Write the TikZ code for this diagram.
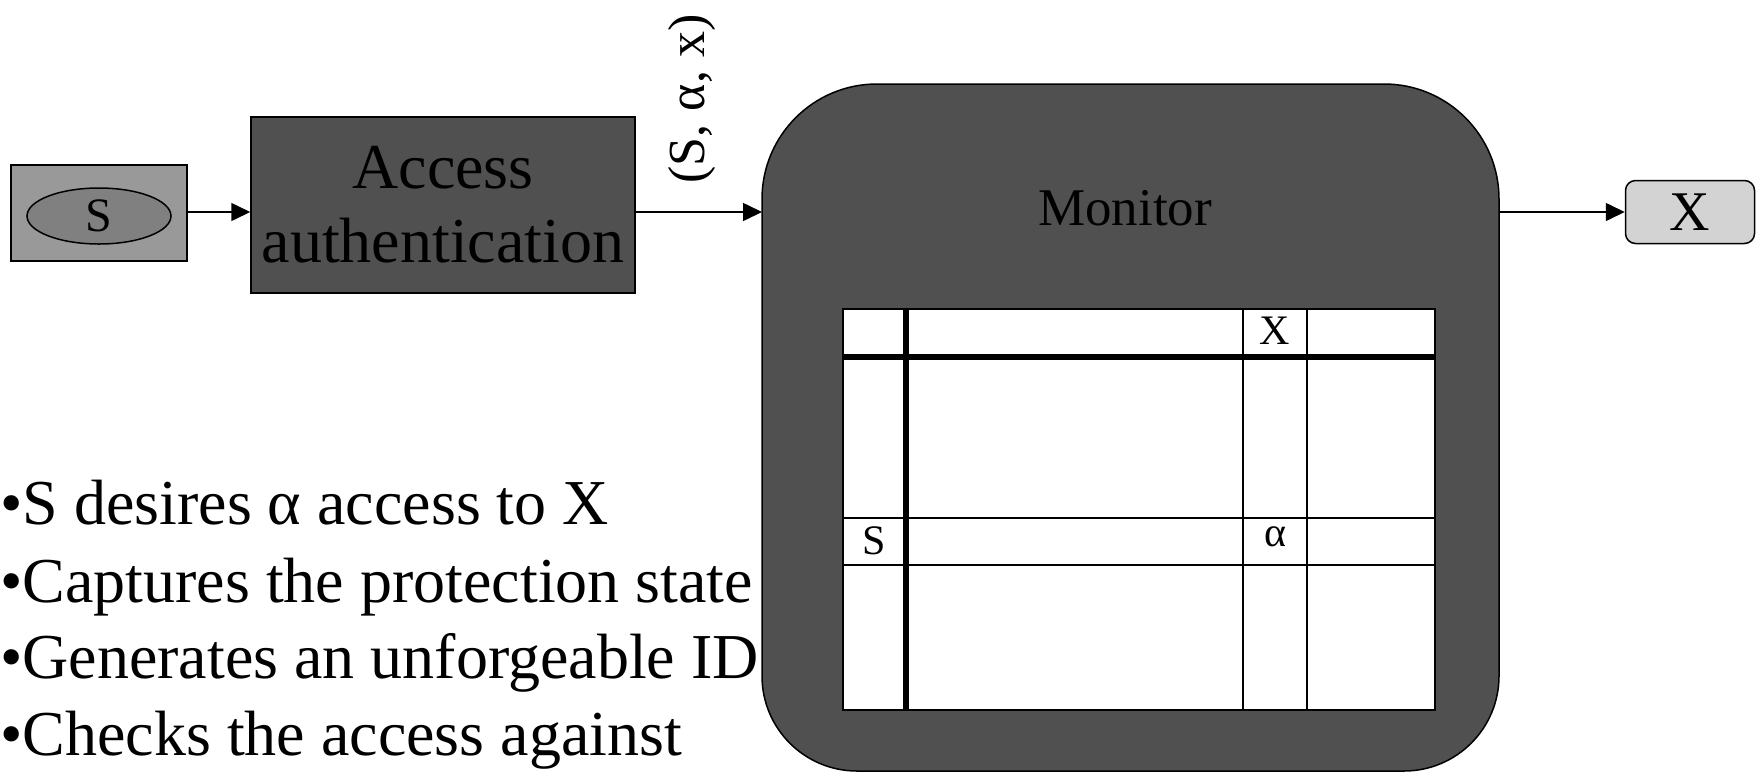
\documentclass[tikz,border=0pt]{standalone}
\usepackage{fontspec}
\setmainfont{Liberation Serif}
\usetikzlibrary{arrows.meta,shapes.geometric}
\definecolor{sgray}{HTML}{999999}
\definecolor{egray}{HTML}{808080}
\definecolor{dgray}{HTML}{505050}
\definecolor{lgray}{HTML}{D3D3D3}
\tikzset{
  box/.style={draw=black,line width=1.5pt,inner sep=0pt},
  arr/.style={line width=1.6pt,-{Triangle[length=19pt,width=18pt]}},
  thinln/.style={line width=1.6pt},
  thickln/.style={line width=6pt},
  bullet/.style={anchor=base west,inner sep=0pt,font=\fontsize{64}{74}\selectfont},
  cell/.style={inner sep=0pt,font=\fontsize{42}{46}\selectfont}
}
\begin{document}
\begin{tikzpicture}[x=1pt,y=-1pt]
\useasboundingbox (0,0) rectangle (1758,772);
\clip (0,0) rectangle (1758,772);
% subject box
\node[box,fill=sgray,minimum width=176pt,minimum height=96pt] (sbox) at (99,213) {};
\node[draw=black,line width=1.5pt,fill=egray,ellipse,minimum width=144pt,minimum height=56pt,inner sep=0pt,font=\fontsize{48}{52}\selectfont] (s) at (99,216) {S};
% access authentication
\node[box,fill=dgray,minimum width=384pt,minimum height=176pt,align=center,font=\fontsize{64}{74}\selectfont] (auth) at (443,205) {Access\\authentication};
% monitor
\draw[line width=1.5pt,fill=dgray] (762,400)
  {[rounded corners=115pt] -- (762,84) -- (1499,84) -- (1499,400)}
  {[rounded corners=95pt] -- (1499,771) -- (762,771) -- (762,400)} -- cycle;
\coordinate (monw) at (762,212);
\coordinate (mone) at (1499,212);
\node[font=\fontsize{53}{58}\selectfont] (mon) at (1125,208) {Monitor};
% object box
\node[box,fill=lgray,rounded corners=10pt,minimum width=129pt,minimum height=63pt,font=\fontsize{56}{60}\selectfont] (xbox) at (1690,212) {X};
% arrows
\draw[arr] (sbox.east |- 0,212) -- (auth.west |- 0,212);
\draw[arr] (auth.east |- 0,212) -- (monw);
\draw[arr] (mone) -- (xbox.west |- 0,212);
\node[rotate=90,font=\fontsize{52}{56}\selectfont] (lab) at (692,99) {(S, α, x)};
% matrix
\draw[thinln,fill=white] (843,309) rectangle (1435,710);
\draw[thinln] (1243,309) -- (1243,710);
\draw[thinln] (1307,309) -- (1307,710);
\draw[thinln] (843,518) -- (1435,518);
\draw[thinln] (843,565) -- (1435,565);
\draw[thickln] (906,309) -- (906,710);
\draw[thickln] (843,357) -- (1435,357);
\node[cell] (cx) at (1275,331) {X};
\node[cell] (cs) at (874,541) {S};
\node[cell] (ca) at (1275,537) {α};
% bullets
\node[bullet] (b1) at (0,524) {•S desires α access to X};
\node[bullet] (b2) at (0,602) {•Captures the protection state};
\node[bullet] (b3) at (0,678) {•Generates an unforgeable ID};
\node[bullet] (b4) at (0,755) {•Checks the access against};
\end{tikzpicture}
\end{document}
